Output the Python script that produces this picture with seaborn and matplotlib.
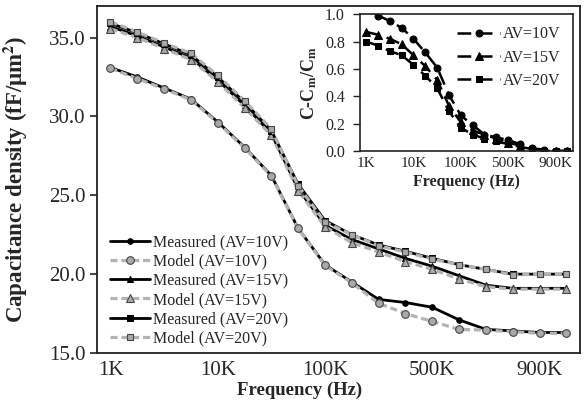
import numpy as np
import matplotlib
matplotlib.use("Agg")
import matplotlib.pyplot as plt
import seaborn as sns

# ---------------- data ----------------
freqs = ['1K', '2K', '3K', '5K', '10K', '20K', '30K', '50K', '100K', '200K',
         '300K', '400K', '500K', '600K', '700K', '800K', '900K', '1M']
tick_labels = ['1K', '10K', '100K', '500K', '900K']

meas_10 = [33.1, 32.5, 31.8, 31.1, 29.65, 28.05, 26.25, 22.9, 20.6, 19.5,
           18.4, 18.2, 17.9, 17.1, 16.5, 16.4, 16.3, 16.3]
model_10 = [33.05, 32.4, 31.75, 31.05, 29.6, 28.0, 26.2, 22.9, 20.55, 19.45,
            18.15, 17.5, 17.0, 16.5, 16.45, 16.35, 16.25, 16.25]
meas_15 = [35.7, 35.1, 34.4, 33.7, 32.3, 30.7, 28.9, 25.4, 23.1, 22.2,
           21.6, 21.0, 20.5, 19.9, 19.3, 19.1, 19.1, 19.1]
model_15 = [35.55, 35.0, 34.3, 33.6, 32.2, 30.55, 28.8, 25.3, 23.0, 22.0,
            21.4, 20.8, 20.3, 19.7, 19.2, 19.05, 19.05, 19.05]
meas_20 = [35.9, 35.3, 34.6, 33.9, 32.5, 30.9, 29.1, 25.7, 23.4, 22.5,
           21.85, 21.45, 21.0, 20.6, 20.3, 20.0, 20.0, 20.0]
model_20 = [36.0, 35.35, 34.65, 34.0, 32.6, 31.0, 29.2, 25.6, 23.3, 22.5,
            21.8, 21.4, 20.95, 20.6, 20.3, 19.95, 20.0, 20.0]

# inset: (C - Cm) / Cm  (first 10V point lies above the axis top)
ratio_10 = [np.nan, 0.99, 0.95, 0.90, 0.82, 0.72, 0.61, 0.41, 0.26, 0.19,
            0.12, 0.10, 0.08, 0.05, 0.02, 0.01, 0.0, 0.0]
ratio_15 = [0.87, 0.85, 0.82, 0.78, 0.70, 0.62, 0.52, 0.33, 0.21, 0.15,
            0.12, 0.09, 0.06, 0.04, 0.01, 0.0, 0.0, 0.0]
ratio_20 = [0.80, 0.77, 0.73, 0.70, 0.63, 0.55, 0.46, 0.29, 0.17, 0.12,
            0.09, 0.07, 0.05, 0.03, 0.015, 0.0, 0.0, 0.0]

# ---------------- style ----------------
sns.set_style("white")
plt.rcParams['font.family'] = ['Liberation Serif', 'DejaVu Serif']
plt.rcParams['mathtext.fontset'] = 'stix'

fig = plt.figure(figsize=(5.88, 4.11), dpi=100)
ax = fig.add_axes([0.165, 0.1411, 0.821, 0.8443])
x = np.arange(len(freqs))
tick_pos = [freqs.index(t) for t in tick_labels]

main_series = [
    ("Measured (AV=10V)", meas_10, 'o', 'meas'),
    ("Model (AV=10V)", model_10, 'o', 'model'),
    ("Measured (AV=15V)", meas_15, '^', 'meas'),
    ("Model (AV=15V)", model_15, '^', 'model'),
    ("Measured (AV=20V)", meas_20, 's', 'meas'),
    ("Model (AV=20V)", model_20, 's', 'model'),
]
for label, vals, mk, kind in main_series:
    if kind == 'meas':
        sns.lineplot(x=x, y=vals, ax=ax, color='black', lw=2.0, marker=mk,
                     markersize=4 if mk != '^' else 4.5,
                     markerfacecolor='black', markeredgecolor='black',
                     label=label)
    else:
        sns.lineplot(x=x, y=vals, ax=ax, color='#b3b3b3', lw=2.3,
                     linestyle=(0, (2.2, 1.2)), marker=mk,
                     markersize=5.5 if mk != 's' else 5,
                     markerfacecolor='#a9a9a9', markeredgecolor='#454545',
                     markeredgewidth=0.8, label=label)

ax.set_xlim(-0.5, len(freqs) - 0.5)
ax.set_ylim(15, 37)
ax.set_yticks([15, 20, 25, 30, 35])
ax.set_yticklabels([f"{v:.1f}" for v in [15, 20, 25, 30, 35]])
ax.set_xticks(tick_pos)
ax.set_xticklabels(tick_labels)
ax.tick_params(axis='x', length=0, labelsize=15, pad=6)
ax.tick_params(axis='y', length=5, width=1.2, direction='out', left=True,
               labelsize=15, pad=3, color='#222222')
for s in ax.spines.values():
    s.set_color('#222222')
    s.set_linewidth(1.3)
ax.set_xlabel("Frequency (Hz)", fontsize=13.5, fontweight='bold')
ax.xaxis.set_label_coords(0.42, -0.083)
ax.set_ylabel("Capacitance density (fF/μm$^\\mathbf{2}$)", fontsize=16.5,
              fontweight='bold')
ax.yaxis.set_label_coords(-0.138, 0.5)
ax.legend(loc='upper left', bbox_to_anchor=(0.027, 0.342), frameon=False,
          fontsize=11.5, handlelength=2.5, handletextpad=0.2,
          labelspacing=0.2, borderaxespad=0, borderpad=0)

# ---------------- inset ----------------
ax2 = fig.add_axes([0.6125, 0.6326, 0.3625, 0.333])
ax2.set_facecolor('white')
inset_series = [("AV=10V", ratio_10, 'o'),
                ("AV=15V", ratio_15, '^'),
                ("AV=20V", ratio_20, 's')]
for label, vals, mk in inset_series:
    sns.lineplot(x=x, y=vals, ax=ax2, color='black', lw=1.8,
                 linestyle=(0, (5.5, 3)), marker=mk,
                 markersize=5 if mk != '^' else 6,
                 markerfacecolor='black', markeredgecolor='black',
                 label=label)
ax2.set_xlim(-0.5, len(freqs) - 0.5)
ax2.set_ylim(0, 1.0)
yt = [0.0, 0.2, 0.4, 0.6, 0.8, 1.0]
ax2.set_yticks(yt)
ax2.set_yticklabels([f"{v:.1f}" for v in yt])
ax2.set_xticks(tick_pos)
ax2.set_xticklabels(tick_labels)
ax2.tick_params(axis='x', length=0, labelsize=11, pad=4)
ax2.tick_params(axis='y', length=5, width=1.0, direction='out', left=True,
                labelsize=11.5, pad=6, color='#222222')
for s in ax2.spines.values():
    s.set_color('#222222')
    s.set_linewidth(1.2)
ax2.set_xlabel("Frequency (Hz)", fontsize=11.5, fontweight='bold', labelpad=3)
ax2.set_ylabel("C-C$_\\mathbf{m}$/C$_\\mathbf{m}$", fontsize=13,
               fontweight='bold', labelpad=4)
ax2.legend(loc='upper left', bbox_to_anchor=(0.455, 0.91), frameon=False,
           fontsize=11.5, handlelength=2.7, handletextpad=0.15,
           labelspacing=0.45, borderaxespad=0, borderpad=0)

fig.savefig("out.png", dpi=100)
